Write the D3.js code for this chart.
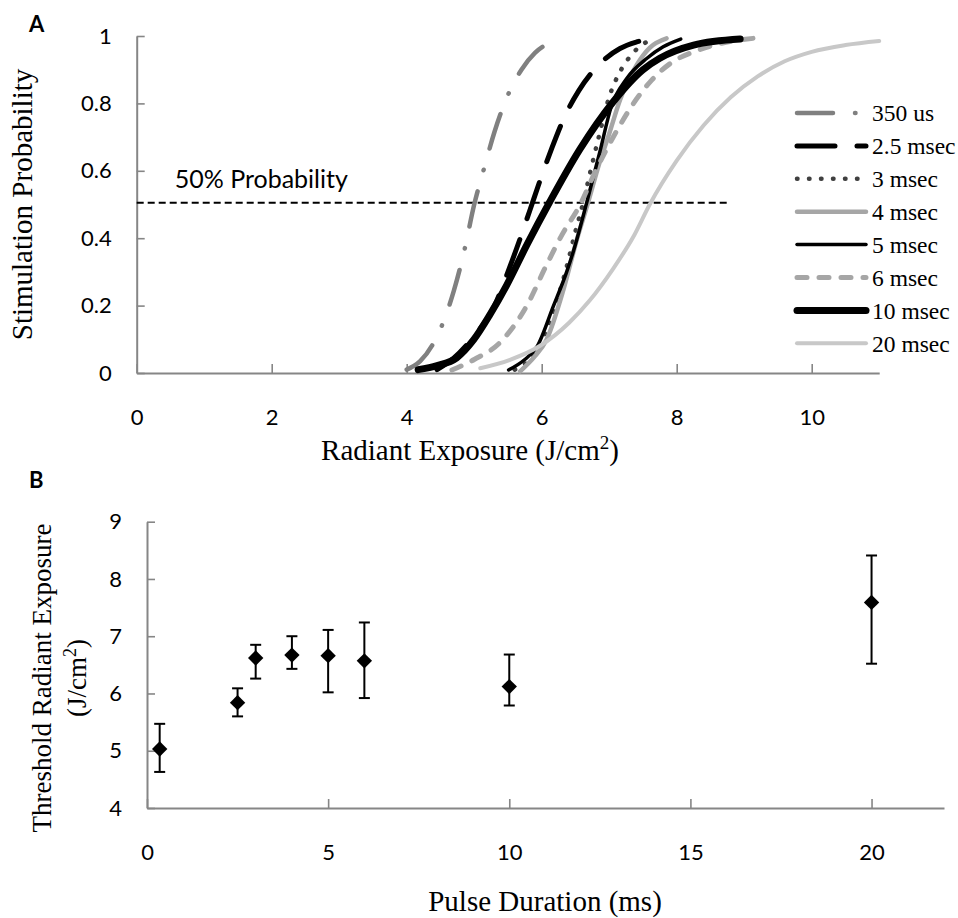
<!DOCTYPE html>
<html><head><meta charset="utf-8">
<script src="https://cdn.jsdelivr.net/npm/d3@7"></script>
<style>body{margin:0;background:#fff}svg{display:block}</style>
</head><body>
<svg id="c" width="958" height="918"></svg>
<script>
// ---------- DATA ----------
const seriesNames = ["350 us","2.5 msec","3 msec","4 msec","5 msec","6 msec","10 msec","20 msec"];
// Panel A: [radiant exposure (J/cm2), stimulation probability]
const curve350us = [[4.0,0.01],[4.2,0.035],[4.4,0.09],[4.55,0.155],[4.7,0.245],[4.85,0.36],[5.0,0.5],[5.15,0.61],[5.3,0.715],[5.5,0.825],[5.7,0.9],[5.9,0.95],[6.1,0.978],[6.3,0.993]];
const curve2_5ms = [[4.45,0.01],[4.7,0.045],[5.0,0.11],[5.28,0.19],[5.5,0.3],[5.7,0.41],[5.82,0.48],[6.0,0.585],[6.15,0.667],[6.35,0.765],[6.55,0.838],[6.9,0.925],[7.16,0.963],[7.4,0.982],[7.68,0.993]];
const curve3ms = [[5.6,0.01],[5.9,0.06],[6.15,0.17],[6.35,0.3],[6.5,0.42],[6.62,0.51],[6.71,0.588],[6.84,0.696],[7.01,0.825],[7.16,0.894],[7.33,0.944],[7.48,0.973],[7.65,0.99]];
const curve4ms = [[5.68,0.005],[5.9,0.05],[6.07,0.098],[6.32,0.246],[6.52,0.395],[6.69,0.508],[6.85,0.62],[7.0,0.71],[7.16,0.81],[7.41,0.915],[7.6,0.965],[7.85,0.993]];
const curve5ms = [[5.51,0.009],[5.75,0.04],[5.93,0.078],[6.17,0.197],[6.37,0.3],[6.46,0.355],[6.67,0.508],[6.86,0.655],[7.03,0.79],[7.26,0.874],[7.56,0.934],[7.8,0.968],[8.06,0.991]];
const curve6ms = [[4.67,0.009],[5.0,0.04],[5.38,0.09],[5.78,0.2],[6.07,0.32],[6.3,0.41],[6.57,0.5],[6.8,0.6],[7.13,0.725],[7.36,0.8],[7.63,0.869],[7.93,0.922],[8.25,0.953],[8.59,0.975],[9.13,0.993]];
const curve10ms = [[4.17,0.01],[4.45,0.022],[4.74,0.045],[4.99,0.098],[5.23,0.172],[5.48,0.26],[5.78,0.38],[6.12,0.508],[6.56,0.662],[7.06,0.805],[7.5,0.9],[7.75,0.934],[8.25,0.973],[8.94,0.991]];
const curve20ms = [[5.09,0.014],[5.53,0.039],[5.97,0.08],[6.41,0.15],[6.71,0.215],[7.06,0.31],[7.36,0.405],[7.6,0.5],[8.0,0.63],[8.4,0.735],[8.8,0.818],[9.2,0.88],[9.6,0.925],[10.0,0.953],[10.5,0.973],[11.0,0.985]];
const curvesA = [curve350us,curve2_5ms,curve3ms,curve4ms,curve5ms,curve6ms,curve10ms,curve20ms];
const thresholdLineY = 0.505;
const thresholdLineXEnd = 8.8;
const xTicksA = [0,2,4,6,8,10];
const yTicksA = [0,0.2,0.4,0.6,0.8,1];

// Panel B
const pulseDurations = [0.35,2.5,3,4,5,6,10,20];
const thresholds     = [5.03,5.84,6.62,6.67,6.66,6.57,6.12,7.59];
const errUpper       = [5.47,6.09,6.85,7.00,7.11,7.24,6.68,8.41];
const errLower       = [4.63,5.60,6.26,6.43,6.02,5.92,5.79,6.52];
const xTicksB = [0,5,10,15,20];
const yTicksB = [4,5,6,7,8,9];

// ---------- STYLES ----------
const styles = [
  {color:"#808080", width:4.5, dash:"36,22,0.5,22"},
  {color:"#000000", width:5,   dash:"38,22"},
  {color:"#404040", width:4.5, dash:"0.5,11.5"},
  {color:"#a6a6a6", width:4.5, dash:null},
  {color:"#000000", width:3.5, dash:null},
  {color:"#a6a6a6", width:5,   dash:"10,12"},
  {color:"#000000", width:7,   dash:null},
  {color:"#c8c8c8", width:4,   dash:null}
];
const SANS = "Lato, 'Open Sans', sans-serif";
const SERIF = "'Liberation Serif', 'Times New Roman', serif";
const AXIS = "#868686";

const svg = d3.select("#c");

// ---------- PANEL A ----------
const xA = d3.scaleLinear().domain([0,11]).range([136.7,879.2]);
const yA = d3.scaleLinear().domain([0,1]).range([373,36]);

function styleAxis(g){
  g.select(".domain").attr("stroke",AXIS).attr("stroke-width",2);
  g.selectAll(".tick line").attr("stroke",AXIS).attr("stroke-width",1.6);
  g.selectAll(".tick text").attr("fill","#000").style("font-family",SANS).style("font-size","22px");
}

svg.append("g").attr("transform",`translate(0,${yA(0)})`)
  .call(d3.axisBottom(xA).tickValues(xTicksA).tickSize(-9).tickSizeOuter(0).tickPadding(36).tickFormat(d3.format("d")))
  .call(styleAxis);
svg.append("g").attr("transform",`translate(${xA(0)},0)`)
  .call(d3.axisLeft(yA).tickValues(yTicksA).tickSize(-8).tickSizeOuter(0).tickPadding(25).tickFormat(d=>String(d)))
  .call(styleAxis);

// 50% line
svg.append("line")
  .attr("x1",xA(0)).attr("x2",xA(thresholdLineXEnd))
  .attr("y1",yA(thresholdLineY)).attr("y2",yA(thresholdLineY))
  .attr("stroke","#000").attr("stroke-width",2).attr("stroke-dasharray","7,4");
svg.append("text").attr("x",xA(0)+38).attr("y",188)
  .style("font-family",SANS).style("font-size","25px").text("50% Probability");

const lineA = d3.line().x(d=>xA(d[0])).y(d=>yA(d[1])).curve(d3.curveMonotoneX);
svg.append("g").selectAll("path").data(curvesA).join("path")
  .attr("d",lineA)
  .attr("fill","none")
  .attr("stroke",(d,i)=>styles[i].color)
  .attr("stroke-width",(d,i)=>styles[i].width)
  .attr("stroke-dasharray",(d,i)=>styles[i].dash)
  .attr("stroke-linecap","round");

// legend
const legend = svg.append("g");
const legY0 = 113, legDY = 32.9;
seriesNames.forEach((name,i)=>{
  const y = legY0 + i*legDY;
  legend.append("line").attr("x1",797).attr("x2",866).attr("y1",y).attr("y2",y)
    .attr("stroke",styles[i].color).attr("stroke-width",styles[i].width)
    .attr("stroke-dasharray",styles[i].dash).attr("stroke-linecap","round");
  legend.append("text").attr("x",872).attr("y",y).attr("dy","0.35em")
    .style("font-family",SERIF).style("font-size","23.5px").text(name);
});

// titles A
svg.append("text").attr("x",29).attr("y",32).style("font-family",SANS).style("font-weight","bold").style("font-size","22px").text("A");
svg.append("text").attr("transform",`translate(32,204.5) rotate(-90)`).attr("text-anchor","middle")
  .style("font-family",SERIF).style("font-size","29px").text("Stimulation Probability");
const tA = svg.append("text").attr("x",470).attr("y",460).attr("text-anchor","middle")
  .style("font-family",SERIF).style("font-size","29px");
tA.append("tspan").text("Radiant Exposure (J/cm");
tA.append("tspan").attr("dy",-11).style("font-size","19px").text("2");
tA.append("tspan").attr("dy",11).text(")");

// ---------- PANEL B ----------
const xB = d3.scaleLinear().domain([0,22]).range([147,944]);
const yB = d3.scaleLinear().domain([4,9]).range([808,521.7]);

svg.append("g").attr("transform",`translate(0,${yB(4)})`)
  .call(d3.axisBottom(xB).tickValues(xTicksB).tickSize(-9).tickSizeOuter(0).tickPadding(36).tickFormat(d3.format("d")))
  .call(styleAxis);
svg.append("g").attr("transform",`translate(${xB(0)},0)`)
  .call(d3.axisLeft(yB).tickValues(yTicksB).tickSize(-8).tickSizeOuter(0).tickPadding(25).tickFormat(d3.format("d")))
  .call(styleAxis);

const gB = svg.append("g");
const capW = 5.5;
pulseDurations.forEach((p,i)=>{
  const x = xB(p);
  gB.append("line").attr("x1",x).attr("x2",x).attr("y1",yB(errUpper[i])).attr("y2",yB(errLower[i]))
    .attr("stroke","#000").attr("stroke-width",2);
  [errUpper[i],errLower[i]].forEach(v=>{
    gB.append("line").attr("x1",x-capW).attr("x2",x+capW).attr("y1",yB(v)).attr("y2",yB(v))
      .attr("stroke","#000").attr("stroke-width",2);
  });
});
gB.selectAll("path.m").data(pulseDurations).join("path").attr("class","m")
  .attr("d",d3.symbol(d3.symbolSquare,118))
  .attr("transform",(d,i)=>`translate(${xB(d)},${yB(thresholds[i])}) rotate(45)`)
  .attr("fill","#000");

svg.append("text").attr("x",29).attr("y",488).style("font-family",SANS).style("font-weight","bold").style("font-size","22px").text("B");
svg.append("text").attr("transform",`translate(51,678) rotate(-90)`).attr("text-anchor","middle")
  .style("font-family",SERIF).style("font-size","27px").text("Threshold Radiant Exposure");
const tB2 = svg.append("text").attr("transform",`translate(86,678) rotate(-90)`).attr("text-anchor","middle")
  .style("font-family",SERIF).style("font-size","27px");
tB2.append("tspan").text("(J/cm");
tB2.append("tspan").attr("dy",-10).style("font-size","18px").text("2");
tB2.append("tspan").attr("dy",10).text(")");
svg.append("text").attr("x",545).attr("y",911).attr("text-anchor","middle")
  .style("font-family",SERIF).style("font-size","29px").text("Pulse Duration (ms)");
</script>
</body></html>
